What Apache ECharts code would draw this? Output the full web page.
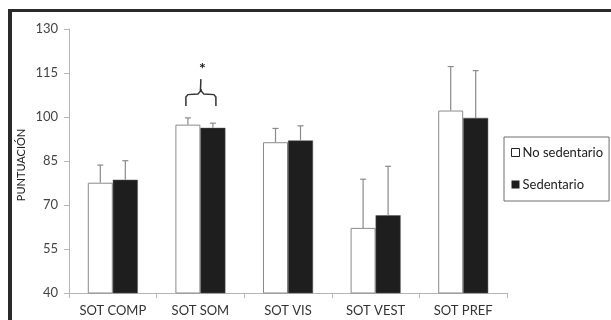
<!DOCTYPE html>
<html>
<head>
<meta charset="utf-8">
<script src="https://cdn.jsdelivr.net/npm/echarts@6/dist/echarts.min.js"></script>
<style>html,body{margin:0;padding:0;background:#fff}#c{width:611px;height:320px}</style>
</head>
<body>
<div id="c"></div>
<script>
var categories = ['SOT COMP', 'SOT SOM', 'SOT VIS', 'SOT VEST', 'SOT PREF'];
var noSedentario = [77.6, 97.4, 91.4, 62.2, 102.2];
var noSedentarioErrTop = [83.6, 99.7, 96.1, 78.8, 117.2];
var sedentario = [78.6, 96.3, 92.0, 66.5, 99.7];
var sedentarioErrTop = [85.1, 97.9, 97.0, 83.2, 115.8];
var yTicks = [40, 55, 70, 85, 100, 115, 130];
var yAxisTitle = 'PUNTUACIÓN';

var FONT = 'Lato';
var chart = echarts.init(document.getElementById('c'), null, {renderer: 'canvas'});

function errSeries(name, vals, tops, offset) {
  return {
    type: 'custom',
    name: name + ' err',
    z: 5,
    data: categories.map(function (c, i) { return [i, vals[i], tops[i]]; }),
    renderItem: function (params, api) {
      var x = api.coord([api.value(0), api.value(1)]);
      var top = api.coord([api.value(0), api.value(2)]);
      var cx = x[0] + offset;
      var st = {stroke: '#8a8a8a', lineWidth: 1.2};
      return {
        type: 'group',
        children: [
          {type: 'line', shape: {x1: cx, y1: x[1], x2: cx, y2: top[1]}, style: st},
          {type: 'line', shape: {x1: cx - 3, y1: top[1], x2: cx + 3, y2: top[1]}, style: st}
        ]
      };
    }
  };
}

var option = {
  animation: false,
  textStyle: {fontFamily: FONT},
  grid: {left: 69, right: 104, top: 29, bottom: 27, containLabel: false},
  legend: {
    orient: 'vertical',
    left: 504,
    top: 137,
    padding: [9, 6, 10, 7],
    itemGap: 19,
    itemWidth: 8,
    itemHeight: 8,
    borderColor: '#6f6f6f',
    borderWidth: 1,
    textStyle: {fontFamily: FONT, fontSize: 13, color: '#222', padding: [0, 0, 0, -2]},
    data: [
      {name: 'No sedentario', icon: 'rect', itemStyle: {color: '#fff', borderColor: '#222', borderWidth: 1}},
      {name: 'Sedentario', icon: 'rect', itemStyle: {color: '#1e1e1e', borderColor: '#1e1e1e', borderWidth: 0}}
    ]
  },
  xAxis: {
    type: 'category',
    data: categories,
    axisLine: {lineStyle: {color: '#b5b5b5', width: 1}},
    axisTick: {show: true, alignWithLabel: false, length: 5, lineStyle: {color: '#b5b5b5'}},
    axisLabel: {fontFamily: FONT, fontSize: 13, color: '#333', margin: 11}
  },
  yAxis: {
    type: 'value',
    min: 40, max: 130, interval: 15,
    axisLine: {show: true, lineStyle: {color: '#b5b5b5', width: 1}},
    axisTick: {show: true, length: 5, lineStyle: {color: '#b5b5b5'}},
    axisLabel: {fontFamily: FONT, fontSize: 13, color: '#444', margin: 11,
      formatter: function (v) { return yTicks.indexOf(v) >= 0 ? String(v) : ''; }},
    splitLine: {show: false}
  },
  series: [
    {
      type: 'bar', name: 'No sedentario', data: noSedentario,
      barWidth: 25, barGap: '0%',
      itemStyle: {color: '#ffffff', borderColor: '#8a8a8a', borderWidth: 1}
    },
    {
      type: 'bar', name: 'Sedentario', data: sedentario,
      barWidth: 25,
      itemStyle: {color: '#1e1e1e', borderColor: '#555', borderWidth: 0.5}
    },
    errSeries('No sedentario', noSedentario, noSedentarioErrTop, -12.5),
    errSeries('Sedentario', sedentario, sedentarioErrTop, 12.5)
  ]
};
chart.setOption(option);

// annotation: bracket + asterisk over SOT SOM, frame lines, y-axis title
var p = chart.convertToPixel({xAxisIndex: 0, yAxisIndex: 0}, [1, 107.8]);
var cx = p[0] + 0.5;
var by = p[1];
var bracketStyle = {fill: null, stroke: '#333', lineWidth: 1.5};
chart.setOption({
  graphic: [
    {type: 'rect', shape: {x: 8, y: 9, width: 4, height: 320}, style: {fill: '#2a2a2a'}, silent: true},
    {type: 'rect', shape: {x: 8, y: 9, width: 611, height: 3}, style: {fill: '#2a2a2a'}, silent: true},
    {type: 'text', silent: true, x: 21, y: 165, rotation: Math.PI / 2,
      style: {text: yAxisTitle, fontFamily: FONT, fontSize: 11, fill: '#222', align: 'center', verticalAlign: 'middle'}},
    {type: 'polyline', silent: true,
      shape: {points: [[cx - 15, by + 12], [cx - 15, by + 3], [cx - 13, by + 0.5], [cx - 3, by], [cx - 0.5, by - 3], [cx, by - 15]]},
      style: bracketStyle},
    {type: 'polyline', silent: true,
      shape: {points: [[cx + 15, by + 12], [cx + 15, by + 3], [cx + 13, by + 0.5], [cx + 3, by], [cx + 0.5, by - 3], [cx, by - 5]]},
      style: bracketStyle},
    {type: 'text', silent: true, x: cx + 1.5, y: by - 25,
      style: {text: '*', fontFamily: FONT, fontSize: 16, fontWeight: 'bold', fill: '#222', align: 'center', verticalAlign: 'middle'}}
  ]
});
</script>
</body>
</html>
